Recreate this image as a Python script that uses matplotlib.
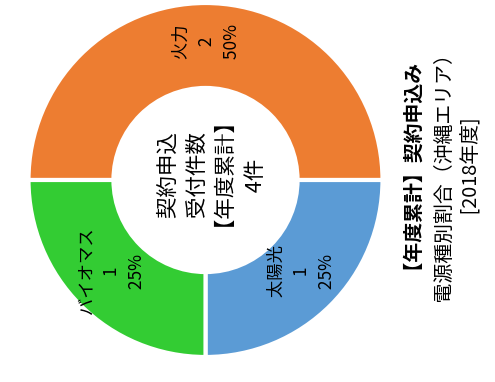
import numpy as np
import matplotlib
matplotlib.use("Agg")
import matplotlib.pyplot as plt

plt.rcParams['font.family'] = ['Noto Sans CJK JP', 'DejaVu Sans']

# データ
sources = ["火力", "太陽光", "バイオマス"]
counts = [2, 1, 1]
colors = ["#ED7D31", "#5B9BD5", "#33CC33"]
center_lines = ["契約申込", "受付件数", "【年度累計】", "4件"]
title_lines = ["【年度累計】契約申込み", "電源種別割合（沖縄エリア）", "[2018年度]"]

W, H = 495, 382
fig = plt.figure(figsize=(W / 100, H / 100), dpi=100)

# 円の中心と半径（ピクセル）
cx, cy, R = 205.5, 180.0, 177.0
ax = fig.add_axes([(cx - R) / W, (H - cy - R) / H, 2 * R / W, 2 * R / H])

total = sum(counts)
wedges, _ = ax.pie(counts, colors=colors, startangle=180, counterclock=False,
                   radius=1.0, wedgeprops=dict(width=0.48, edgecolor='white', linewidth=3))
ax.set_xlim(-1, 1)
ax.set_ylim(-1, 1)
ax.set_aspect('equal')
ax.axis('off')


def vtext(px, py, s, size, **kw):
    # 90度回転の文字列を、字面の中心が (px, py) [ピクセル, 上から] に来るよう置く
    # 先頭のスペースは回転文字の描画位置ずれ（先頭文字の左余白依存）を防ぐため
    em = size * 100 / 72
    fig.text((px + 0.38 * em) / W, 1 - (py - 0.11 * em) / H, " " + s, rotation=90,
             rotation_mode='anchor', ha='center', va='baseline', fontsize=size, **kw)


def vertical_lines(px, py, lines, step_px, size, **kw):
    n = len(lines)
    for i, line in enumerate(lines):
        vtext(px + (i - (n - 1) / 2) * step_px, py, line, size, **kw)


# ラベル
for w, name, n in zip(wedges, sources, counts):
    ang = np.deg2rad((w.theta1 + w.theta2) / 2)
    r = 0.76 * R
    vertical_lines(cx + r * np.cos(ang), cy - r * np.sin(ang),
                   [name, str(n), f"{n / total:.0%}"], 25, 12.5)

# 中央のテキスト
vertical_lines(cx + 4.5, cy, center_lines, 29, 15.5)

# タイトル（右側）
title_x = [413, 443, 470]
title_y = [177, 178, 170]
weights = ['bold', 'normal', 'normal']
for x, y, line, wgt in zip(title_x, title_y, title_lines, weights):
    vtext(x, y, line, 14.3, fontweight=wgt)

fig.savefig("out.png", dpi=100)
